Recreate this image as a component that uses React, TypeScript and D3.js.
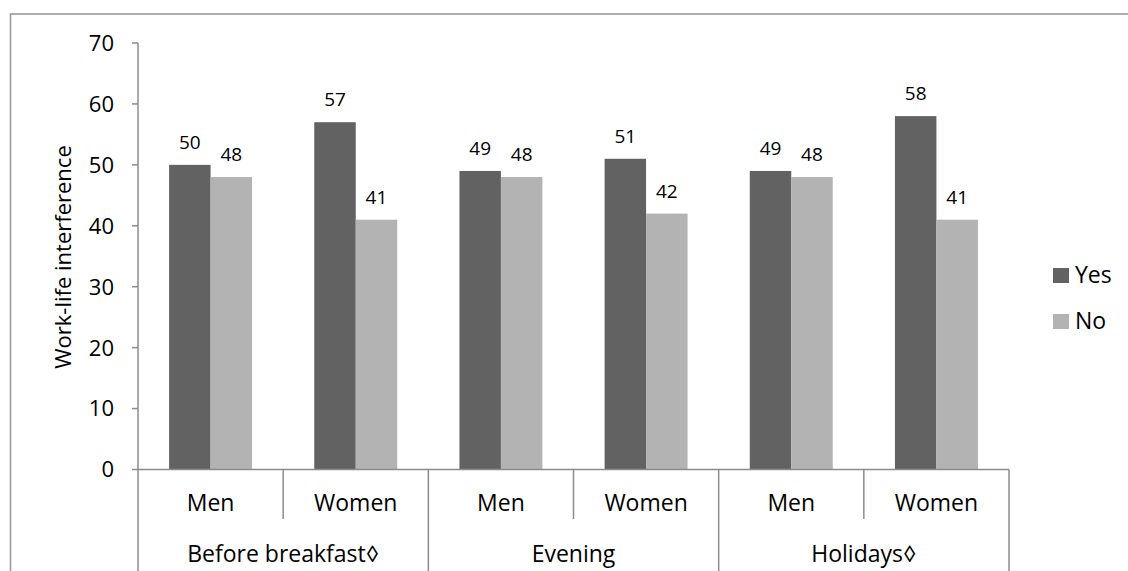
import React from "react";
import * as d3 from "d3";

const groups = ["Before breakfast\u25CA", "Evening", "Holidays\u25CA"];
const subgroups = ["Men", "Women"];
const seriesNames = ["Yes", "No"];
const yesValues = [50, 57, 49, 51, 49, 58];
const noValues = [48, 41, 48, 42, 48, 41];
const yTicks = [0, 10, 20, 30, 40, 50, 60, 70];
const colors = ["#626262", "#b3b3b3"];

const W = 1128;
const H = 571;
const FONT = "'Open Sans', 'DejaVu Sans', sans-serif";

export default function App() {
  const x0 = 138;
  const x1 = 1009;
  const y = d3.scaleLinear().domain([0, 70]).range([469.5, 43]);
  const cats = groups.flatMap((g, gi) => subgroups.map((s, si) => `${gi}-${si}`));
  const xb = d3.scaleBand().domain(cats).range([x0, x1]).paddingInner(0).paddingOuter(0);
  const bw = xb.bandwidth() / 3.5;
  const series = [yesValues, noValues];
  const axisColor = "#8c8c8c";
  const baseY = y(0);

  return (
    <svg width={W} height={H} style={{ position: "absolute", left: 0, top: 0, background: "#fff" }}>
      <rect x={10.5} y={14} width={1200} height={700} fill="none" stroke="#999" strokeWidth={1.6} />
      {/* y axis */}
      <line x1={x0} x2={x0} y1={y(70)} y2={baseY} stroke={axisColor} strokeWidth={1.5} />
      {yTicks.map((t) => (
        <g key={t}>
          <line x1={132} x2={x0} y1={y(t)} y2={y(t)} stroke={axisColor} strokeWidth={1.5} />
          <text x={114} y={y(t)} dy="0.36em" textAnchor="end" fontFamily={FONT} fontSize={22} fill="#000">
            {t}
          </text>
        </g>
      ))}
      <text
        transform={`translate(71,${257}) rotate(-90)`}
        textAnchor="middle"
        fontFamily={FONT}
        fontSize={22}
        fill="#000"
      >
        Work-life interference
      </text>
      {/* bars */}
      {cats.map((c, i) =>
        series.map((vals, si) => {
          const bx = (xb(c) as number) + 0.75 * bw + si * bw;
          const by = y(vals[i]);
          return (
            <g key={c + si}>
              <rect x={bx} y={by} width={bw} height={baseY - by} fill={colors[si]} />
              <text x={bx + bw / 2} y={by - 16} textAnchor="middle" fontFamily={FONT} fontSize={19} fill="#000">
                {vals[i]}
              </text>
            </g>
          );
        })
      )}
      {/* x axis */}
      <line x1={x0} x2={x1} y1={baseY} y2={baseY} stroke={axisColor} strokeWidth={1.5} />
      {cats.map((c, i) => {
        const left = xb(c) as number;
        const isGroupStart = i % 2 === 0;
        return (
          <g key={"x" + c}>
            <line x1={left} x2={left} y1={baseY} y2={isGroupStart ? H + 2 : 519} stroke={axisColor} strokeWidth={1.5} />
            <text x={left + xb.bandwidth() / 2} y={511} textAnchor="middle" fontFamily={FONT} fontSize={23} fill="#000">
              {subgroups[i % 2]}
            </text>
          </g>
        );
      })}
      <line x1={x1} x2={x1} y1={baseY} y2={H + 2} stroke={axisColor} strokeWidth={1.5} />
      {groups.map((g, gi) => {
        const left = xb(`${gi}-0`) as number;
        const right = (xb(`${gi}-1`) as number) + xb.bandwidth();
        return (
          <text key={g} x={(left + right) / 2} y={562} textAnchor="middle" fontFamily={FONT} fontSize={23} fill="#000">
            {g}
          </text>
        );
      })}
      {/* legend */}
      {seriesNames.map((s, i) => (
        <g key={s}>
          <rect x={1053} y={268 + i * 46} width={16} height={15} fill={colors[i]} />
          <text x={1075} y={283 + i * 46} fontFamily={FONT} fontSize={23} fill="#000">
            {s}
          </text>
        </g>
      ))}
    </svg>
  );
}
